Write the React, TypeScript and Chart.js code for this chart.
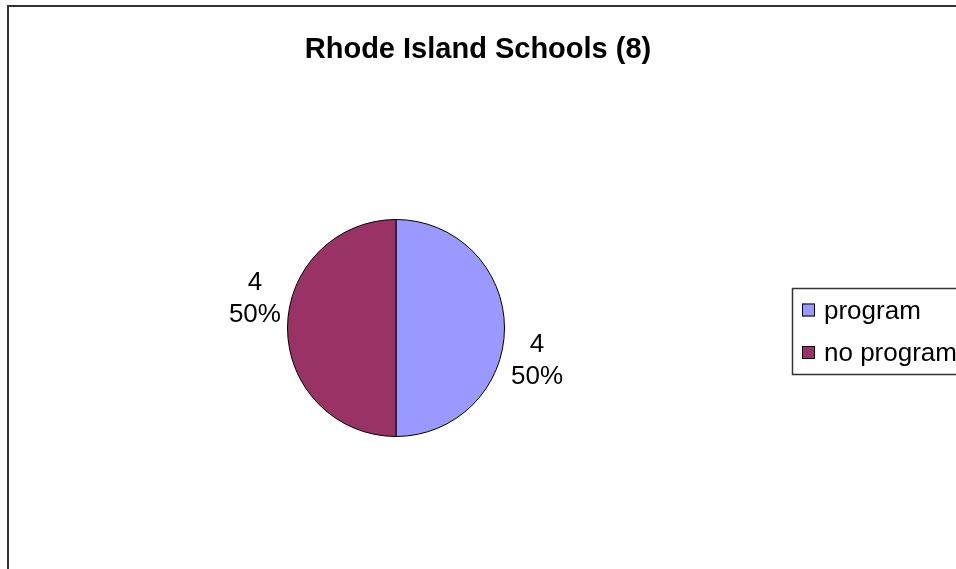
import React, { useEffect, useRef } from "react";
import { Chart, registerables } from "chart.js";

Chart.register(...registerables);

const TITLE = "Rhode Island Schools (8)";
const categories = ["program", "no program"];
const values = [4, 4];
const colors = ["#9999FF", "#993366"];

const FONT = "'Liberation Sans', Arial, sans-serif";

const decorPlugin = {
  id: "decor",
  beforeDraw(chart: any) {
    const ctx = chart.ctx;
    ctx.save();
    ctx.fillStyle = "#ffffff";
    ctx.fillRect(0, 0, chart.width, chart.height);
    // outer frame (left & top visible)
    ctx.strokeStyle = "#333333";
    ctx.lineWidth = 2;
    ctx.beginPath();
    ctx.moveTo(8, chart.height + 5);
    ctx.lineTo(8, 6);
    ctx.lineTo(chart.width + 5, 6);
    ctx.stroke();
    ctx.restore();
  },
  afterDraw(chart: any) {
    const ctx = chart.ctx;
    ctx.save();
    // title
    ctx.fillStyle = "#000";
    ctx.font = `bold 29px ${FONT}`;
    ctx.textAlign = "center";
    ctx.textBaseline = "alphabetic";
    ctx.fillText(TITLE, 478, 58);

    // data labels
    const meta = chart.getDatasetMeta(0);
    const total = values.reduce((a, b) => a + b, 0);
    ctx.font = `26px ${FONT}`;
    ctx.textBaseline = "middle";
    meta.data.forEach((arc: any, i: number) => {
      const p = arc.getProps(["x", "y", "startAngle", "endAngle", "outerRadius"], true);
      const mid = (p.startAngle + p.endAngle) / 2 + (12.5 * Math.PI) / 180;
      const r = p.outerRadius + 36;
      const cx = p.x + Math.cos(mid) * r;
      const cy = p.y + Math.sin(mid) * r + 2;
      const pct = Math.round((values[i] / total) * 100) + "%";
      ctx.fillText(String(values[i]), cx, cy - 16);
      ctx.fillText(pct, cx, cy + 16);
    });

    // legend
    const lx = 792, ly = 288, lh = 86;
    ctx.strokeStyle = "#333333";
    ctx.lineWidth = 1.5;
    ctx.strokeRect(lx + 0.5, ly + 0.5, chart.width, lh);
    ctx.font = `26px ${FONT}`;
    ctx.textAlign = "left";
    categories.forEach((c, i) => {
      const y = 310.5 + i * 42.5;
      ctx.fillStyle = colors[i];
      ctx.fillRect(802, y - 7, 13, 13);
      ctx.strokeStyle = "#000";
      ctx.lineWidth = 1;
      ctx.strokeRect(802.5, y - 6.5, 12, 12);
      ctx.fillStyle = "#000";
      ctx.fillText(c, 824, y + 1);
    });
    ctx.restore();
  },
};

export default function App() {
  const ref = useRef<HTMLCanvasElement | null>(null);
  useEffect(() => {
    if (!ref.current) return;
    const chart = new Chart(ref.current, {
      type: "pie",
      data: {
        labels: categories,
        datasets: [
          {
            data: values,
            backgroundColor: colors,
            borderColor: "#000000",
            borderWidth: 1,
          },
        ],
      },
      options: {
        responsive: false,
        animation: false,
        devicePixelRatio: 1,
        layout: { padding: { left: 287, right: 451, top: 219, bottom: 132 } },
        plugins: {
          legend: { display: false },
          title: { display: false },
          tooltip: { enabled: false },
        },
      },
      plugins: [decorPlugin],
    });
    return () => chart.destroy();
  }, []);
  return (
    <div style={{ position: "absolute", left: 0, top: 0, width: 956, height: 569, overflow: "hidden" }}>
      <canvas ref={ref} width={956} height={569} style={{ display: "block" }} />
    </div>
  );
}
